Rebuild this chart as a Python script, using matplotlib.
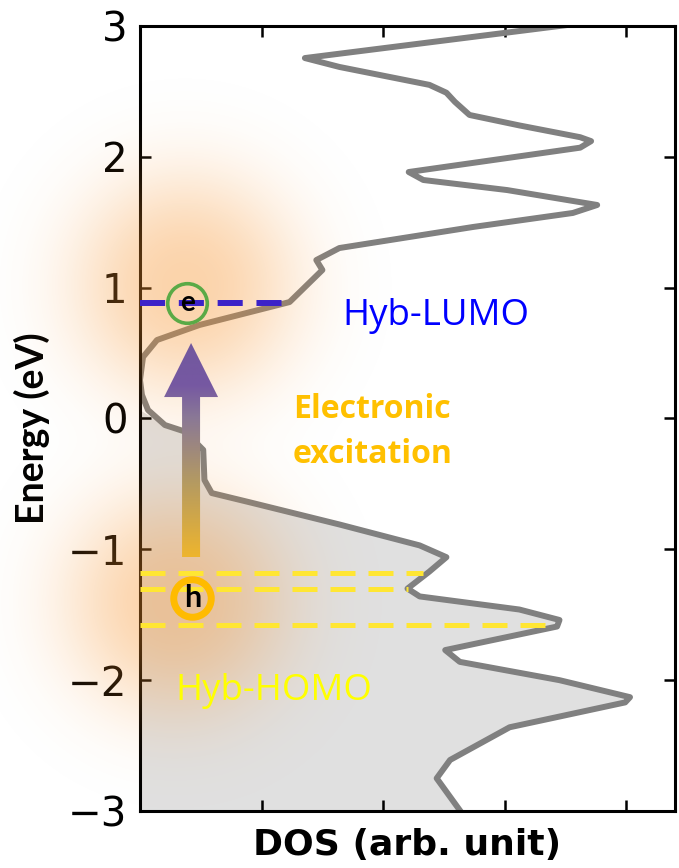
import numpy as np
import matplotlib
matplotlib.use('Agg')
import matplotlib.pyplot as plt
from matplotlib.patches import Polygon
from matplotlib.colors import LinearSegmentedColormap

# DOS curve (energy in eV, DOS in arb. units)
energy = [3.02, 2.755, 2.687, 2.55, 2.49, 2.42, 2.32, 2.24, 2.15, 2.12,
          2.07, 1.884, 1.823, 1.746, 1.632, 1.571, 1.464, 1.303, 1.211, 1.135,
          0.89, 0.715, 0.60, 0.47, 0.294, 0.18, 0.065, -0.05, -0.10, -0.24,
          -0.47, -0.57, -0.64, -0.81, -0.97, -1.06, -1.17, -1.30, -1.36, -1.46,
          -1.54, -1.59, -1.77, -1.86, -2.00, -2.13, -2.17, -2.36, -2.61, -2.75,
          -2.84, -3.02]
dos = [3.62, 1.356, 1.64, 2.38, 2.52, 2.59, 2.71, 3.12, 3.62, 3.71,
       3.62, 2.21, 2.33, 3.02, 3.76, 3.56, 2.74, 1.64, 1.45, 1.50,
       1.23, 0.49, 0.14, 0.025, 0.0, 0.016, 0.066, 0.205, 0.37, 0.52,
       0.53, 0.59, 0.90, 1.64, 2.30, 2.52, 2.38, 2.20, 2.30, 3.12,
       3.45, 3.43, 2.51, 2.63, 3.45, 4.03, 3.99, 3.04, 2.55, 2.44,
       2.51, 2.65]

lumo_level = 0.88
lumo_end = 1.17
homo_levels = [-1.18, -1.30, -1.58]
homo_ends = [2.33, 2.2, 3.42]

yticks = [-3, -2, -1, 0, 1, 2, 3]
xticks = [1, 2, 3, 4]

electron_pos = (0.39, 0.88)
hole_pos = (0.43, -1.37)
glow_centers = [(0.37, 1.02), (0.29, -1.40)]

energy = np.array(energy)
dos = np.array(dos)

W, H = 679, 868
fig = plt.figure(figsize=(W / 100, H / 100), dpi=100)
ax = fig.add_axes([140 / W, 1 - 811 / H, 535 / W, 785 / H])

ax.fill_betweenx(energy, 0, dos, where=energy <= -0.05, interpolate=True,
                 color='#e0e0e0', lw=0, zorder=1)
ax.plot(dos, energy, color='#808080', lw=4.3, solid_joinstyle='round', zorder=2)

xlim = (0, 4.40)
ylim = (-3, 3)
ax.set_xlim(xlim)
ax.set_ylim(ylim)
ax.set_xticks(xticks)
ax.set_xticklabels([])
ax.set_yticks(yticks)
ax.set_yticklabels([str(t).replace('-', '\u2212') for t in yticks])
ax.tick_params(direction='in', length=8, width=1.8, top=True, right=True,
               labelsize=29, pad=9)
for s in ax.spines.values():
    s.set_linewidth(2.2)

ax.set_xlabel('DOS (arb. unit)', fontsize=26, fontweight='bold', labelpad=3)
ax.set_ylabel('Energy (eV)', fontsize=27, fontweight='bold', family='Lato')
ax.yaxis.set_label_coords(-0.168, 0.488)

# orange glows (radial gradients) laid over the axes
inv = ax.transData.inverted()
x0, y0 = inv.transform((0, 0))
x1, y1 = inv.transform((W, H))
yy, xx = np.mgrid[0:H, 0:W] + 0.5
alpha = np.zeros((H, W))
for c in glow_centers:
    px, py = ax.transData.transform(c)
    r = np.hypot(xx - px, yy - (H - py))
    a = 0.40 * np.exp(-(r / 112.0) ** 2.5)
    alpha = 1 - (1 - alpha) * (1 - a)
glow = np.zeros((H, W, 4))
glow[..., 0] = 0.97
glow[..., 1] = 0.58
glow[..., 2] = 0.18
glow[..., 3] = alpha
ax.imshow(glow, extent=[x0, x1, y0, y1], origin='upper', aspect='auto',
          interpolation='bilinear', zorder=3, clip_on=False)

# energy levels
ax.plot([0, lumo_end], [lumo_level, lumo_level], color='#3c22c8', lw=4.3,
        dashes=(4.2, 2.3), zorder=4)
for lev, xe in zip(homo_levels, homo_ends):
    ax.plot([0, xe], [lev, lev], color='#ffe633', lw=3.6, dashes=(5, 2.6), zorder=4)

# excitation arrow with purple -> gold gradient
xc, yb, yh, yt = 0.42, -1.06, 0.164, 0.577
sw, hw = 0.074, 0.222
arrow = Polygon([(xc - sw, yb), (xc + sw, yb), (xc + sw, yh), (xc + hw, yh),
                 (xc, yt), (xc - hw, yh), (xc - sw, yh)], closed=True,
                facecolor='none', edgecolor='none', transform=ax.transData)
ax.add_patch(arrow)
cmap = LinearSegmentedColormap.from_list(
    'exc', [(0, '#eeb52e'), (0.35, '#b49a62'), (0.65, '#8a7896'),
            (0.8, '#7658a2'), (1, '#72589e')])
grad = np.linspace(0, 1, 256).reshape(-1, 1)
im = ax.imshow(grad, cmap=cmap, origin='lower', aspect='auto',
               extent=[xc - hw, xc + hw, yb, yt], zorder=5)
im.set_clip_path(arrow)

# electron and hole
ax.plot(*electron_pos, 'o', ms=28.5, mfc='none', mec='#5aaa46', mew=2.6, zorder=6)
ax.text(*electron_pos, 'e', fontsize=20, fontweight='bold', family='Lato',
        ha='center', va='center', zorder=7)
ax.plot(*hole_pos, 'o', ms=27, mfc='none', mec='#ffbb00', mew=5, zorder=6)
ax.text(*hole_pos, 'h', fontsize=22, fontweight='bold', family='Lato',
        ha='center', va='center', zorder=7)

ax.text(1.668, 0.715, 'Hyb-LUMO', color='#0000ff', fontsize=26.4,
        family='Open Sans', va='baseline', zorder=7)
ax.text(1.257, 0.004, 'Electronic', color='#ffc000', fontsize=23,
        family='Open Sans', fontweight='bold', va='baseline', zorder=7)
ax.text(1.257, -0.34, 'excitation', color='#ffc000', fontsize=23,
        family='Open Sans', fontweight='bold', va='baseline', zorder=7)
ax.text(0.288, -2.152, 'Hyb-HOMO', color='#ffff00', fontsize=26.4,
        family='Open Sans', va='baseline', zorder=7)

ax.set_xlim(xlim)
ax.set_ylim(ylim)

plt.savefig('out.png', dpi=100)
plt.close()
